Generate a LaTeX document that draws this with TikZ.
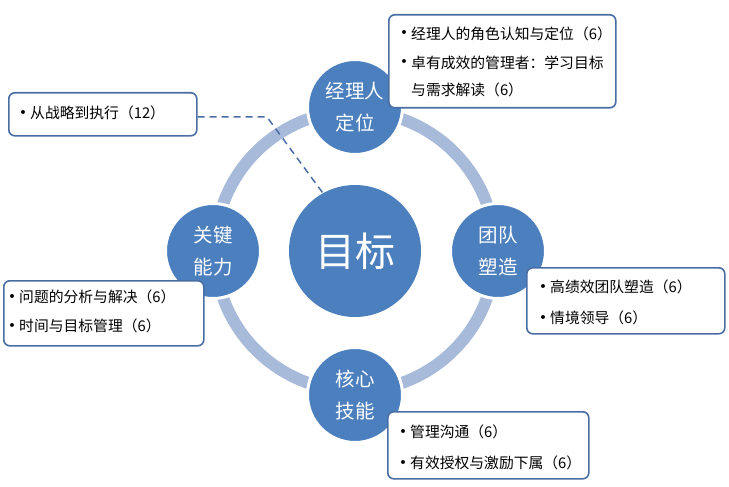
\documentclass[tikz,border=0pt]{standalone}
\usepackage{fontspec}
\setmainfont{Noto Sans CJK SC}
\newfontfamily\bulfont{DejaVu Sans}
\definecolor{circblue}{RGB}{76,127,189}
\definecolor{ringblue}{RGB}{168,186,218}
\definecolor{boxline}{RGB}{72,110,165}
\begin{document}
\begin{tikzpicture}[x=1pt,y=-1pt,
  sat/.style={circle,fill=circblue,draw=white,line width=3pt,minimum size=95pt,inner sep=0pt,text=white,align=center,font=\fontsize{19.5}{32}\selectfont},
  goalc/.style={circle,fill=circblue,minimum size=132pt,inner sep=0pt,text=white,font=\fontsize{40}{40}\selectfont},
  infobox/.style={draw=boxline,line width=1.6pt,fill=white,rounded corners=6pt},
  itemtxt/.style={anchor=west,inner sep=0pt,font=\fontsize{14.8}{15}\selectfont},
  bul/.style={anchor=center,inner sep=0pt,font=\bulfont\fontsize{13.5}{13.5}\selectfont}
]
\useasboundingbox[fill=white] (0,0) rectangle (729,487);
\coordinate (c) at (355,251);
\draw[ringblue,line width=12pt] (c) circle (140);

\coordinate (k) at (267,117);

\node[goalc] (goal) at (c) {目标};
\node[sat] (top) at (355,107) {经理人\\定位};
\node[sat] (left) at (213,251) {关键\\能力};
\node[sat] (right) at (498,251) {团队\\塑造};
\node[sat] (bottom) at (355,395) {核心\\技能};

% boxes
\node[infobox,minimum width=227pt,minimum height=93pt,anchor=north west] (b1) at (388,14) {};
\node[infobox,minimum width=188pt,minimum height=43pt,anchor=north west] (b2) at (8,92) {};
\node[infobox,minimum width=200pt,minimum height=65pt,anchor=north west] (b3) at (3,280) {};
\node[infobox,minimum width=198pt,minimum height=66pt,anchor=north west] (b4) at (526,267) {};
\node[infobox,minimum width=201pt,minimum height=67pt,anchor=north west] (b5) at (387,411) {};

\draw[boxline,line width=1.5pt,dash pattern=on 7pt off 5pt] (b2.east |- k) -- (k) -- (goal.119);

% bullets
\node[bul] (u1a) at (404,34) {•};
\node[bul] (u1b) at (404,63) {•};
\node[bul] (u2) at (23,114) {•};
\node[bul] (u3a) at (12,298) {•};
\node[bul] (u3b) at (12,327) {•};
\node[bul] (u4a) at (543,288) {•};
\node[bul] (u4b) at (543,319) {•};
\node[bul] (u5a) at (403,433) {•};
\node[bul] (u5b) at (403,464) {•};

% texts
\node[itemtxt] (t1a) at (411,34) {经理人的角色认知与定位（6）};
\node[itemtxt] (t1b) at (411,63) {卓有成效的管理者：学习目标};
\node[itemtxt] (t1c) at (411,90) {与需求解读（6）};
\node[itemtxt] (t2) at (30,113) {从战略到执行（12）};
\node[itemtxt] (t3a) at (19,297) {问题的分析与解决（6）};
\node[itemtxt] (t3b) at (19,326) {时间与目标管理（6）};
\node[itemtxt] (t4a) at (550,287) {高绩效团队塑造（6）};
\node[itemtxt] (t4b) at (550,318) {情境领导（6）};
\node[itemtxt] (t5a) at (410,432) {管理沟通（6）};
\node[itemtxt] (t5b) at (410,463) {有效授权与激励下属（6）};
\end{tikzpicture}
\end{document}
